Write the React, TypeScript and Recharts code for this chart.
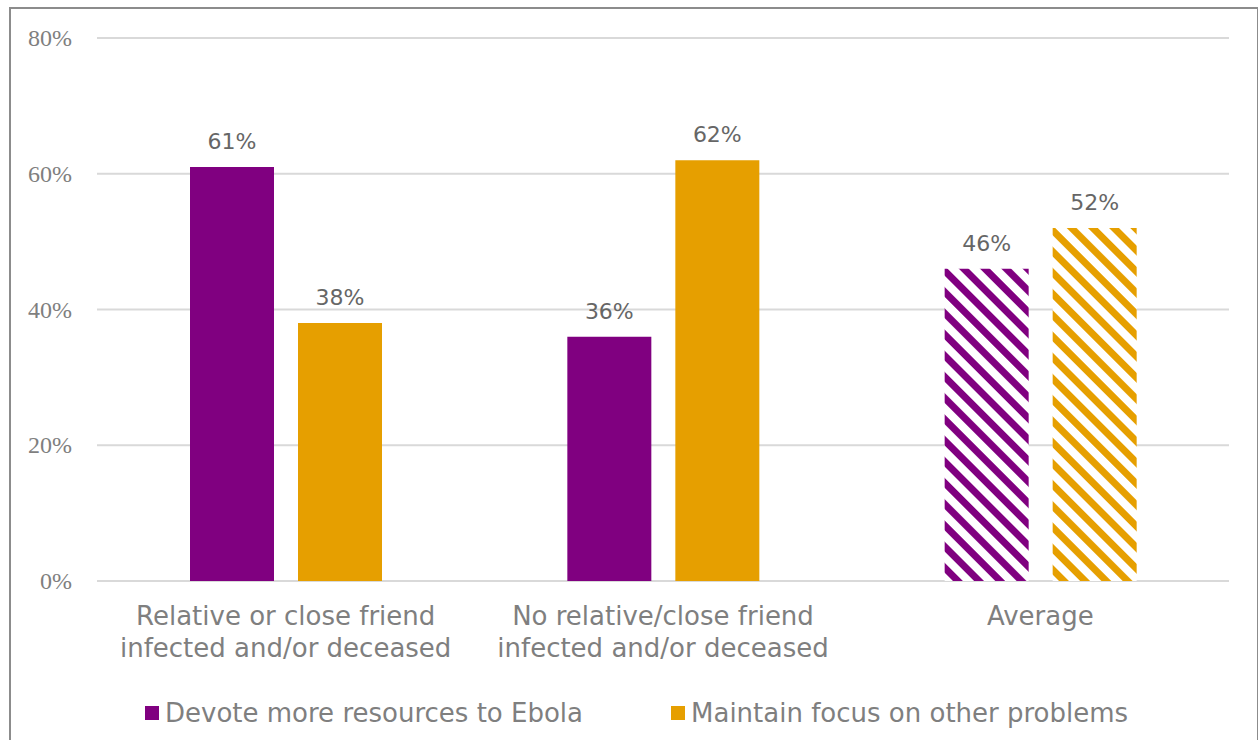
import { BarChart, Bar, XAxis, YAxis, CartesianGrid, LabelList, Cell } from 'recharts';

const categories = [
  'Relative or close friend|infected and/or deceased',
  'No relative/close friend|infected and/or deceased',
  'Average',
];
const devoteValues = [61, 36, 46];
const maintainValues = [38, 62, 52];
const yTicks = [0, 20, 40, 60, 80];
const seriesNames = ['Devote more resources to Ebola', 'Maintain focus on other problems'];

const PURPLE = '#800080';
const ORANGE = '#E69F00';
const GRAY = '#7f7f7f';
const SANS = '"DejaVu Sans", sans-serif';
const SERIF = '"Liberation Serif", "DejaVu Serif", serif';

const data = categories.map((name, i) => ({
  name,
  devote: devoteValues[i],
  maintain: maintainValues[i],
}));

const CategoryTick = ({ x, y, payload }: any) => {
  const lines = String(payload.value).split('|');
  return (
    <text x={x} y={y} textAnchor="middle" fill={GRAY} fontSize={26} fontFamily={SANS}>
      {lines.map((line, i) => (
        <tspan key={i} x={x} dy={i === 0 ? 36 : 32}>
          {line}
        </tspan>
      ))}
    </text>
  );
};

const PercentTick = ({ x, y, payload }: any) => (
  <text
    x={x}
    y={y}
    dy={8}
    textAnchor="end"
    fill={GRAY}
    style={{ fontSize: 24, fontFamily: SERIF }}
  >
    {`${payload.value}%`}
  </text>
);

export default function App() {
  return (
    <div style={{ position: 'fixed', left: 0, top: 0, width: 1258, height: 740, background: '#fff', overflow: 'hidden' }}>
      <div
        style={{
          position: 'absolute',
          left: 9,
          top: 7,
          width: 1246,
          height: 760,
          border: '2px solid #8c8c8c',
        }}
      />
      <div style={{ position: 'absolute', left: 0, top: 0 }}>
        <BarChart
          width={1258}
          height={740}
          data={data}
          margin={{ top: 38, right: 29, bottom: 59, left: 0 }}
          barSize={84}
          barGap={24}
        >
          <defs>
            <pattern id="hatchPurple" patternUnits="userSpaceOnUse" width={15} height={15} patternTransform="rotate(45)">
              <rect x={0} y={0} width={15} height={15} fill="#fff" />
              <rect x={0} y={0} width={15} height={7} fill={PURPLE} />
            </pattern>
            <pattern id="hatchOrange" patternUnits="userSpaceOnUse" width={15} height={15} patternTransform="rotate(45)">
              <rect x={0} y={0} width={15} height={15} fill="#fff" />
              <rect x={0} y={0} width={15} height={7} fill={ORANGE} />
            </pattern>
          </defs>
          <CartesianGrid vertical={false} stroke="#d9d9d9" strokeWidth={2} />
          <XAxis
            dataKey="name"
            axisLine={false}
            tickLine={false}
            height={100}
            interval={0}
            tick={<CategoryTick />}
          />
          <YAxis
            domain={[0, 80]}
            ticks={yTicks}
            width={97}
            axisLine={false}
            tickLine={false}
            tickSize={0}
            tickMargin={25}
            tick={<PercentTick />}
          />
          <Bar dataKey="devote" fill={PURPLE} isAnimationActive={false}>
            {data.map((_, i) => (
              <Cell key={i} fill={i === 2 ? 'url(#hatchPurple)' : PURPLE} />
            ))}
            <LabelList
              dataKey="devote"
              position="top"
              offset={18}
              formatter={(v: any) => `${v}%`}
              style={{ fill: '#666666', fontSize: 22, fontFamily: SANS }}
            />
          </Bar>
          <Bar dataKey="maintain" fill={ORANGE} isAnimationActive={false}>
            {data.map((_, i) => (
              <Cell key={i} fill={i === 2 ? 'url(#hatchOrange)' : ORANGE} />
            ))}
            <LabelList
              dataKey="maintain"
              position="top"
              offset={18}
              formatter={(v: any) => `${v}%`}
              style={{ fill: '#666666', fontSize: 22, fontFamily: SANS }}
            />
          </Bar>
        </BarChart>
      </div>
      <div
        style={{
          position: 'absolute',
          top: 698,
          left: 145,
          display: 'flex',
          alignItems: 'center',
          fontFamily: SANS,
          fontSize: 26,
          color: GRAY,
          whiteSpace: 'nowrap',
        }}
      >
        <span style={{ width: 14, height: 14, background: PURPLE, display: 'inline-block', marginRight: 6 }} />
        <span>{seriesNames[0]}</span>
        <span style={{ width: 14, height: 14, background: ORANGE, display: 'inline-block', marginLeft: 88, marginRight: 6 }} />
        <span>{seriesNames[1]}</span>
      </div>
    </div>
  );
}
